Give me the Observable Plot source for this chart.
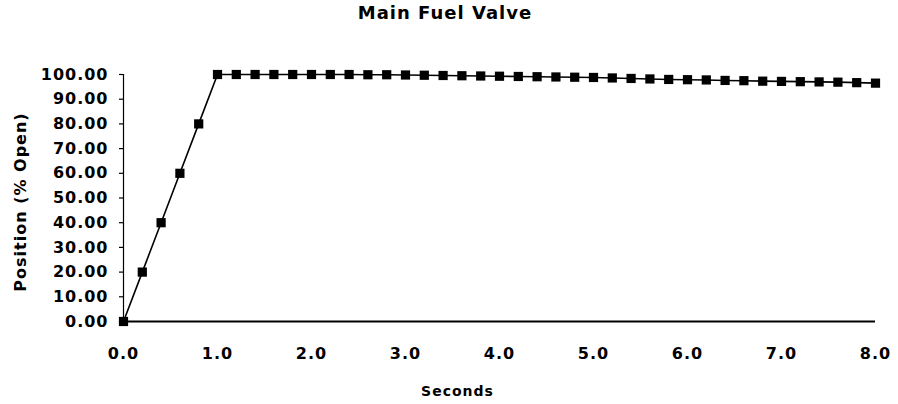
<!DOCTYPE html>
<html>
<head>
<meta charset="utf-8">
<script src="https://cdn.jsdelivr.net/npm/d3@7"></script>
<script src="https://cdn.jsdelivr.net/npm/@observablehq/plot@0.6"></script>
<style>
  html, body { margin: 0; padding: 0; background: #fff; }
  #title { height: 30px; width: 898px; text-align: center; font: bold 18px "DejaVu Sans", sans-serif; letter-spacing: 1px; line-height: 25px; padding-right: 8px; box-sizing: border-box; color: #000; }
  svg { display: block; }
  svg text { letter-spacing: 1px; }
  svg [aria-label="y-title"] text { letter-spacing: 1.5px; }
</style>
</head>
<body>
<div id="title">Main Fuel Valve</div>
<div id="chart"></div>
<script>
const seconds = [0.0,0.2,0.4,0.6,0.8,1.0,1.2,1.4,1.6,1.8,2.0,2.2,2.4,2.6,2.8,3.0,3.2,3.4,3.6,3.8,4.0,4.2,4.4,4.6,4.8,5.0,5.2,5.4,5.6,5.8,6.0,6.2,6.4,6.6,6.8,7.0,7.2,7.4,7.6,7.8,8.0];
const position = [0,20,40,60,80,100,100,100,100,100,100,100,100,99.9,99.9,99.8,99.7,99.6,99.5,99.4,99.3,99.2,99.1,99.0,98.9,98.8,98.6,98.4,98.2,98.0,97.9,97.8,97.6,97.5,97.3,97.2,97.1,97.0,96.9,96.7,96.5];
const xTicks = [0,1,2,3,4,5,6,7,8];
const yTicks = [0,10,20,30,40,50,60,70,80,90,100];
const xTitle = "Seconds";
const yTitle = "Position (% Open)";

const data = seconds.map((s, i) => ({s, p: position[i]}));
const font = "DejaVu Sans, sans-serif";

const chart = Plot.plot({
  width: 898,
  height: 374,
  marginTop: 44,
  marginBottom: 83,
  marginLeft: 123,
  marginRight: 23,
  style: {fontFamily: font, fontSize: "16px", fontWeight: "bold", color: "#000", background: "#fff"},
  x: {domain: [0, 8], label: null},
  y: {domain: [0, 100], label: null},
  marks: [
    Plot.axisX({ticks: xTicks, tickFormat: d3.format(".1f"), tickSize: 0, tickPadding: 26, fontSize: 16, fontWeight: "bold", label: null}),
    Plot.axisY({ticks: yTicks, tickFormat: d3.format(".2f"), tickSize: 4, tickPadding: 11, fontSize: 16, fontWeight: "bold", label: null, strokeWidth: 1.2}),
    Plot.ruleX([0], {y1: 0, y2: 100, stroke: "#000", strokeWidth: 1.2}),
    Plot.ruleY([0], {stroke: "#000", strokeWidth: 2}),
    Plot.line(data, {x: "s", y: "p", stroke: "#000", strokeWidth: 1.6}),
    Plot.dot(data, {x: "s", y: "p", symbol: "square", r: 5.2, fill: "#000", stroke: "none"}),
    Plot.text([xTitle], {frameAnchor: "bottom", dy: 74, dx: -42, fontSize: 14, fontWeight: "bold", fill: "#000"}),
    Plot.text([yTitle], {ariaLabel: "y-title", frameAnchor: "left", textAnchor: "middle", dx: -103, dy: 4, rotate: -90, fontSize: 16, fontWeight: "bold", fill: "#000"})
  ]
});
document.getElementById("chart").appendChild(chart);
</script>
</body>
</html>
